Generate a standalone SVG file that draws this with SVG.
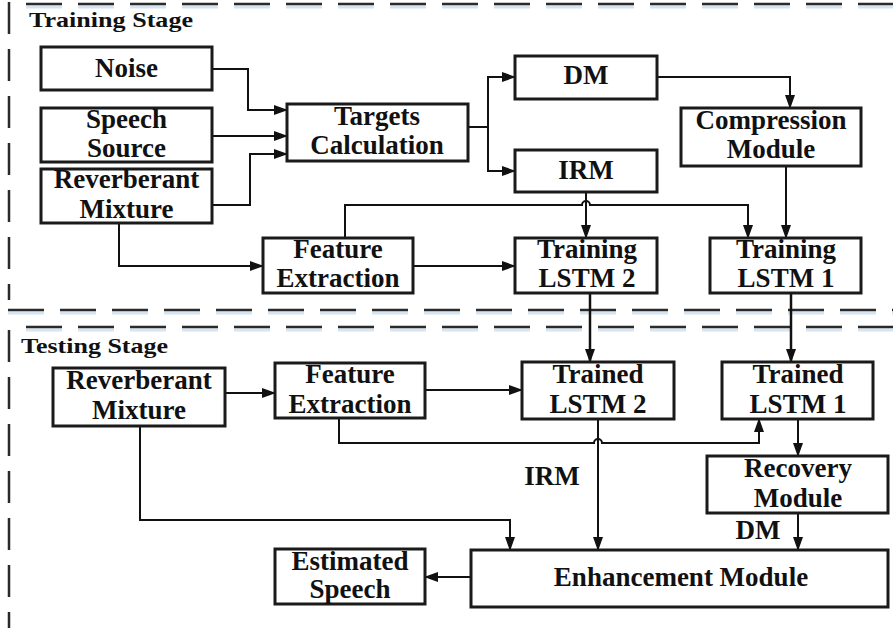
<svg xmlns="http://www.w3.org/2000/svg" width="893" height="632" viewBox="0 0 893 632">
<defs>
<marker id="ah" markerWidth="14" markerHeight="10" refX="13" refY="5" orient="auto" markerUnits="userSpaceOnUse">
<path d="M0,0 L14,5 L0,10 Z" fill="#111"/>
</marker>
<style>
.box{fill:#fff;stroke:#1a1a1a;stroke-width:3}
.t{font-family:"Liberation Serif","Times New Roman",serif;font-weight:bold;font-size:27px;fill:#111;text-anchor:middle}
.ttl{font-family:"Liberation Serif","Times New Roman",serif;font-weight:bold;font-size:22px;fill:#111}
.c{fill:none;stroke:#111;stroke-width:2}
.ca{fill:none;stroke:#111;stroke-width:2;marker-end:url(#ah)}
.dash{fill:none;stroke:#2a2a2a;stroke-width:2.5;stroke-dasharray:36 16}
.sh{fill:none;stroke:#d6e4f2;stroke-width:3;stroke-dasharray:36 16}
</style>
</defs>
<rect width="893" height="632" fill="#fff"/>
<g id="frames">
<line class="sh" x1="26" y1="7" x2="893" y2="7"/>
<line class="dash" x1="26" y1="4" x2="893" y2="4"/>
<line class="dash" x1="9" y1="2" x2="9" y2="300" style="stroke-dasharray:32 15"/>
<line class="sh" x1="8" y1="313" x2="893" y2="313"/>
<line class="dash" x1="8" y1="310" x2="893" y2="310"/>
<line class="sh" x1="26" y1="330" x2="893" y2="330"/>
<line class="dash" x1="26" y1="327" x2="893" y2="327"/>
<line class="dash" x1="9" y1="330" x2="9" y2="628" style="stroke-dasharray:32 15"/>
<text class="ttl" x="29" y="27" textLength="164" lengthAdjust="spacingAndGlyphs">Training Stage</text>
<text class="ttl" x="21" y="353" textLength="147" lengthAdjust="spacingAndGlyphs">Testing Stage</text>
</g>
<g id="connectors">
<polyline class="ca" points="212,69 248,69 248,110 287,110"/>
<line class="ca" x1="212" y1="136" x2="287" y2="136"/>
<polyline class="ca" points="212,205 250,205 250,154 287,154"/>
<polyline class="c" points="468,127 488,127"/>
<polyline class="ca" points="488,127 488,77 515,77"/>
<polyline class="ca" points="488,127 488,171 515,171"/>
<polyline class="ca" points="657,77 790,77 790,108"/>
<line class="ca" x1="786" y1="166" x2="786" y2="238"/>
<line class="ca" x1="586" y1="192" x2="586" y2="238"/>
<path class="ca" d="M345,238 L345,205 L582,205 A4,4 0 0 1 590,205 L748,205 L748,238"/>
<polyline class="ca" points="119,223 119,266 263,266"/>
<line class="ca" x1="413" y1="266" x2="515" y2="266"/>
<line class="ca" x1="590" y1="293" x2="590" y2="362" style="stroke-width:2.5"/>
<line class="ca" x1="791" y1="293" x2="791" y2="362" style="stroke-width:2.5"/>
<line class="ca" x1="225" y1="393" x2="275" y2="393"/>
<line class="ca" x1="425" y1="390" x2="522" y2="390"/>
<path class="ca" d="M339,418 L339,443 L594,443 A4,4 0 0 1 602,443 L759,443 L759,419"/>
<line class="ca" x1="598" y1="419" x2="598" y2="550"/>
<line class="ca" x1="798" y1="419" x2="798" y2="456"/>
<line class="ca" x1="798" y1="513" x2="798" y2="550"/>
<polyline class="ca" points="140,426 140,520 510,520 510,550"/>
<line class="ca" x1="471" y1="577" x2="425" y2="577"/>
<text class="t" x="552" y="485">IRM</text>
<text class="t" x="758" y="539">DM</text>
</g>
<g id="noise"><rect class="box" x="41" y="47" width="171" height="43"/><text class="t" x="126.5" y="77">Noise</text></g>
<g id="speech"><rect class="box" x="41" y="108" width="171" height="54"/><text class="t" x="126.5" y="128">Speech</text><text class="t" x="126.5" y="157">Source</text></g>
<g id="reverb1"><rect class="box" x="41" y="169" width="171" height="54"/><text class="t" x="126.5" y="188">Reverberant</text><text class="t" x="126.5" y="218">Mixture</text></g>
<g id="targets"><rect class="box" x="287" y="104" width="181" height="57"/><text class="t" x="377" y="125">Targets</text><text class="t" x="377" y="154">Calculation</text></g>
<g id="feat1"><rect class="box" x="263" y="238" width="150" height="55"/><text class="t" x="338" y="258">Feature</text><text class="t" x="338" y="287">Extraction</text></g>
<g id="dm"><rect class="box" x="515" y="56" width="142" height="43"/><text class="t" x="586" y="84">DM</text></g>
<g id="irm"><rect class="box" x="515" y="150" width="142" height="42"/><text class="t" x="586" y="179">IRM</text></g>
<g id="compression"><rect class="box" x="681" y="108" width="180" height="58"/><text class="t" x="771" y="129">Compression</text><text class="t" x="771" y="158">Module</text></g>
<g id="train2"><rect class="box" x="515" y="238" width="142" height="55"/><text class="t" x="587" y="258">Training</text><text class="t" x="587" y="287">LSTM 2</text></g>
<g id="train1"><rect class="box" x="710" y="238" width="151" height="55"/><text class="t" x="786" y="258">Training</text><text class="t" x="786" y="287">LSTM 1</text></g>
<g id="reverb2"><rect class="box" x="53" y="368" width="172" height="58"/><text class="t" x="139" y="389">Reverberant</text><text class="t" x="139" y="419">Mixture</text></g>
<g id="feat2"><rect class="box" x="275" y="363" width="150" height="55"/><text class="t" x="350" y="383">Feature</text><text class="t" x="350" y="413">Extraction</text></g>
<g id="trained2"><rect class="box" x="522" y="362" width="152" height="57"/><text class="t" x="598" y="383">Trained</text><text class="t" x="598" y="413">LSTM 2</text></g>
<g id="trained1"><rect class="box" x="722" y="362" width="151" height="57"/><text class="t" x="798" y="383">Trained</text><text class="t" x="798" y="413">LSTM 1</text></g>
<g id="recovery"><rect class="box" x="707" y="456" width="181" height="57"/><text class="t" x="798" y="477">Recovery</text><text class="t" x="798" y="507">Module</text></g>
<g id="enhancement"><rect class="box" x="471" y="550" width="417" height="57"/><text class="t" x="681" y="586">Enhancement Module</text></g>
<g id="estimated"><rect class="box" x="275" y="549" width="150" height="55"/><text class="t" x="350" y="570">Estimated</text><text class="t" x="350" y="598">Speech</text></g>
</svg>
